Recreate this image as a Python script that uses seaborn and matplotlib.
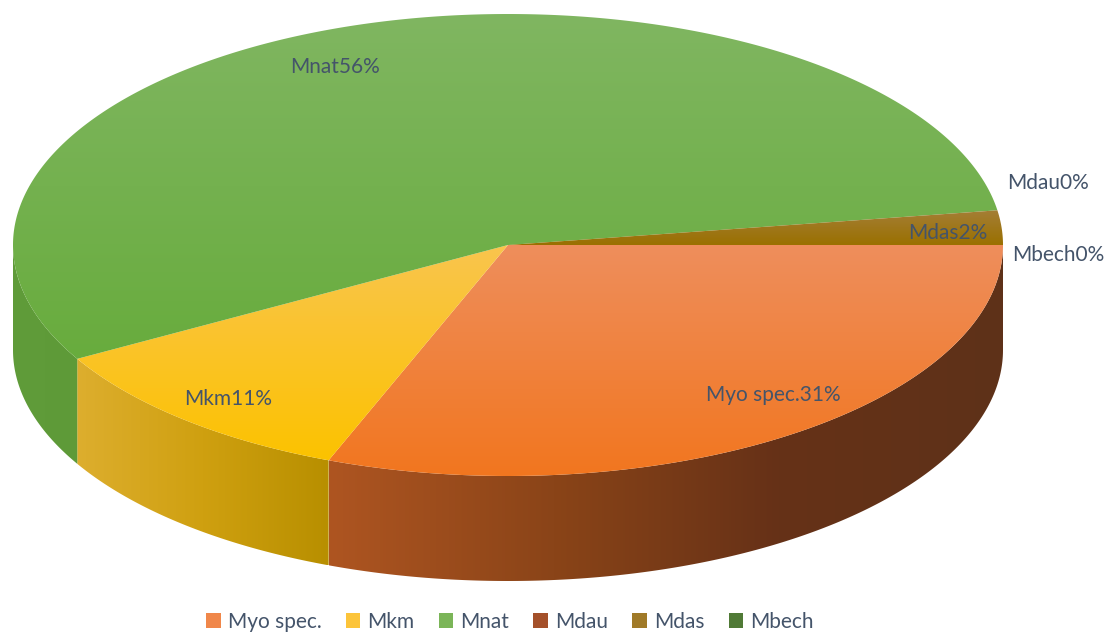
import numpy as np
import matplotlib
matplotlib.use("Agg")
import matplotlib.pyplot as plt
from matplotlib.patches import Polygon, Patch
from matplotlib.colors import LinearSegmentedColormap
import seaborn as sns

# ---- data ----
categories = ["Myo spec.", "Mkm", "Mnat", "Mdau", "Mdas", "Mbech"]
values = [30.9, 10.9, 55.8, 0.0, 2.4, 0.0]

# ---- style ----
sns.set_theme(style="white")
plt.rcParams['font.family'] = ['Lato', 'DejaVu Sans']
TXT = "#44546A"
top_grad = {  # (visual top colour, visual bottom colour)
    "Myo spec.": ("#EE8E5C", "#F2761F"),
    "Mkm": ("#F9C54E", "#FCC200"),
    "Mnat": ("#80B661", "#68AC3D"),
    "Mdau": ("#A65A30", "#9E4810"),
    "Mdas": ("#A47E36", "#9A7000"),
    "Mbech": ("#4F7A35", "#43682B"),
}
wall_grad = {  # left -> right
    "Myo spec.": ["#AE5521", "#8A4418", "#663117", "#5E3219"],
    "Mkm": ["#DDAE2E", "#CFA010", "#B88F00"],
    "Mnat": ["#609C3A", "#5E9A38"],
    "Mdau": ["#7A3810", "#7A3810"],
    "Mdas": ["#7A5A00", "#7A5A00"],
    "Mbech": ["#35531F", "#35531F"],
}
legend_col = ["#F0874A", "#FCC43A", "#7BB558", "#A4502A", "#A07A28", "#507A36"]

cx, cy, rx, ry, depth = 508.0, 245.0, 495.0, 231.0, 105.0

fig = plt.figure(figsize=(11.09, 6.34), dpi=100)
ax = fig.add_axes([0, 0, 1, 1])
ax.set_xlim(0, 1109)
ax.set_ylim(634, 0)
ax.axis("off")


def pt(t, dy=0.0):
    r = np.radians(t)
    return cx + rx * np.cos(r), cy - ry * np.sin(r) + dy


def grad_fill(poly_xy, colors, horizontal, z):
    poly = Polygon(poly_xy, closed=True, facecolor="none", edgecolor="none", zorder=z)
    ax.add_patch(poly)
    xs, ys = poly_xy[:, 0], poly_xy[:, 1]
    x0, x1, y0, y1 = xs.min(), xs.max(), ys.min(), ys.max()
    cmap = LinearSegmentedColormap.from_list("g", colors)
    g = np.linspace(0, 1, 256)
    arr = g[None, :] if horizontal else g[:, None]
    im = ax.imshow(cmap(arr), extent=(x0, x1, y1, y0), origin="upper",
                   interpolation="bilinear", aspect="auto", zorder=z)
    im.set_clip_path(poly)


# angles: start at 3 o'clock, go clockwise
total = float(sum(values))
spans = [v / total * 360.0 for v in values]
starts = np.concatenate([[0.0], -np.cumsum(spans)[:-1]])
ends = starts - np.array(spans)

# side walls (front half: -180 .. 0)
for cat, a0, a1 in zip(categories, starts, ends):
    lo, hi = max(a1, -180.0), min(a0, 0.0)
    if hi - lo <= 1e-6:
        continue
    ts = np.linspace(hi, lo, 200)
    topx, topy = pt(ts)
    botx, boty = pt(ts[::-1], depth)
    xy = np.column_stack([np.concatenate([topx, botx]), np.concatenate([topy, boty])])
    grad_fill(xy, wall_grad[cat], True, 1)

# top faces
for cat, a0, a1 in zip(categories, starts, ends):
    if abs(a0 - a1) <= 1e-6:
        continue
    ts = np.linspace(a0, a1, max(int(abs(a0 - a1) * 3), 4))
    ax_, ay_ = pt(ts)
    xy = np.column_stack([np.concatenate([[cx], ax_]), np.concatenate([[cy], ay_])])
    grad_fill(xy, top_grad[cat], False, 2)

# data labels
label_pos = [(773, 395), (228, 399), (335, 67), (1048, 183), (948, 233), (1058, 255)]
for cat, v, (lx, ly) in zip(categories, values, label_pos):
    ax.text(lx, ly, f"{cat}{round(v / total * 100):.0f}%", ha="center", va="center",
            fontsize=15, color=TXT, zorder=5)

# legend
handles = [Patch(facecolor=c, edgecolor="none", label=cat) for c, cat in zip(legend_col, categories)]
leg = fig.legend(handles=handles, loc="center", bbox_to_anchor=(510 / 1109, 1 - 622 / 634),
                 ncol=6, frameon=False, fontsize=15, handlelength=0.7, handleheight=0.7,
                 handletextpad=0.35, columnspacing=1.15, labelcolor=TXT)

fig.savefig("out.png", dpi=100, facecolor="white")
